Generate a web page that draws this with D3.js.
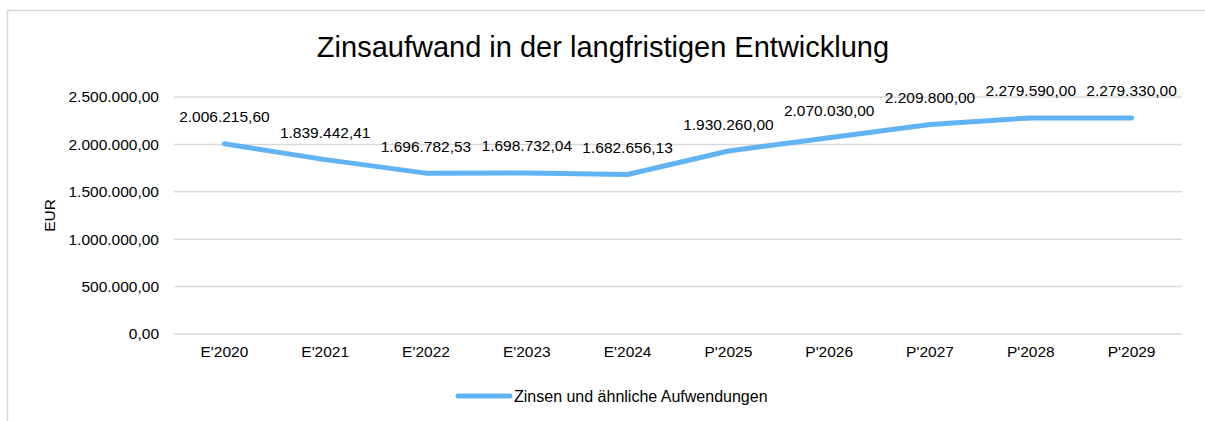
<!DOCTYPE html>
<html>
<head>
<meta charset="utf-8">
<script src="https://cdn.jsdelivr.net/npm/d3@7"></script>
<style>
  body { margin: 0; background: #fff; }
  svg { font-family: "Liberation Sans", Arial, sans-serif; }
</style>
</head>
<body>
<div id="chart"></div>
<script>
var categories = ["E'2020", "E'2021", "E'2022", "E'2023", "E'2024", "P'2025", "P'2026", "P'2027", "P'2028", "P'2029"];
var values = [2006215.60, 1839442.41, 1696782.53, 1698732.04, 1682656.13, 1930260.00, 2070030.00, 2209800.00, 2279590.00, 2279330.00];
var yTicks = [0, 500000, 1000000, 1500000, 2000000, 2500000];
var seriesName = "Zinsen und ähnliche Aufwendungen";
var chartTitle = "Zinsaufwand in der langfristigen Entwicklung";

var W = 1205, H = 421;
var margin = {top: 97, right: 23, bottom: 87, left: 174};
var width = W - margin.left - margin.right,
    height = H - margin.top - margin.bottom;

var fmt = d3.formatLocale({decimal: ",", thousands: ".", grouping: [3], currency: ["", " €"]}).format(",.2f");

var svg = d3.select("#chart").append("svg")
    .attr("width", W)
    .attr("height", H);

// chart area border (only top and left visible)
svg.append("rect")
    .attr("x", 7.5).attr("y", 10.5)
    .attr("width", W + 10).attr("height", H + 10)
    .attr("fill", "none")
    .attr("stroke", "#d9d9d9")
    .attr("stroke-width", 1.5);

var g = svg.append("g")
    .attr("transform", "translate(" + margin.left + "," + margin.top + ")");

var x = d3.scaleBand()
    .domain(categories)
    .range([0, width]);

var y = d3.scaleLinear()
    .domain([0, 2500000])
    .range([height, 0]);

// grid lines
g.selectAll(".grid")
    .data(yTicks)
  .enter().append("line")
    .attr("class", "grid")
    .attr("x1", 0).attr("x2", width)
    .attr("y1", function(d) { return y(d); })
    .attr("y2", function(d) { return y(d); })
    .attr("stroke", "#d9d9d9")
    .attr("stroke-width", 1.5);

var yAxis = d3.axisLeft(y).tickValues(yTicks).tickSize(0).tickPadding(15).tickFormat(fmt);
var yg = g.append("g").call(yAxis);
yg.select(".domain").remove();
yg.selectAll("text").style("font-size", "15.5px").attr("fill", "#000");

var xAxis = d3.axisBottom(x).tickSize(0).tickPadding(12);
var xg = g.append("g")
    .attr("transform", "translate(0," + height + ")")
    .call(xAxis);
xg.select(".domain").remove();
xg.selectAll("text").style("font-size", "15.5px").attr("fill", "#000");

var line = d3.line()
    .x(function(d, i) { return x(categories[i]) + x.bandwidth() / 2; })
    .y(function(d) { return y(d); });

g.append("path")
    .datum(values)
    .attr("d", line)
    .attr("fill", "none")
    .attr("stroke", "#62b3f3")
    .attr("stroke-width", 5)
    .attr("stroke-linecap", "round")
    .attr("stroke-linejoin", "round");

// data labels
g.selectAll(".lbl")
    .data(values)
  .enter().append("text")
    .attr("class", "lbl")
    .attr("x", function(d, i) { return x(categories[i]) + x.bandwidth() / 2; })
    .attr("y", function(d) { return y(d) - 21.5; })
    .attr("text-anchor", "middle")
    .style("font-size", "15.5px")
    .text(function(d) { return fmt(d); });

// title
svg.append("text")
    .attr("x", 603)
    .attr("y", 57)
    .attr("text-anchor", "middle")
    .style("font-size", "29px")
    .text(chartTitle);

// y axis label
svg.append("text")
    .attr("transform", "translate(55," + (margin.top + height / 2) + ")rotate(-90)")
    .attr("text-anchor", "middle")
    .style("font-size", "15.5px")
    .text("EUR");

// legend
var legend = svg.append("g").attr("transform", "translate(458,396)");
legend.append("line")
    .attr("x1", 0).attr("x2", 52)
    .attr("y1", 0).attr("y2", 0)
    .attr("stroke", "#62b3f3")
    .attr("stroke-width", 5)
    .attr("stroke-linecap", "round");
legend.append("text")
    .attr("x", 56)
    .attr("y", 5.5)
    .style("font-size", "16px")
    .text(seriesName);
</script>
</body>
</html>
